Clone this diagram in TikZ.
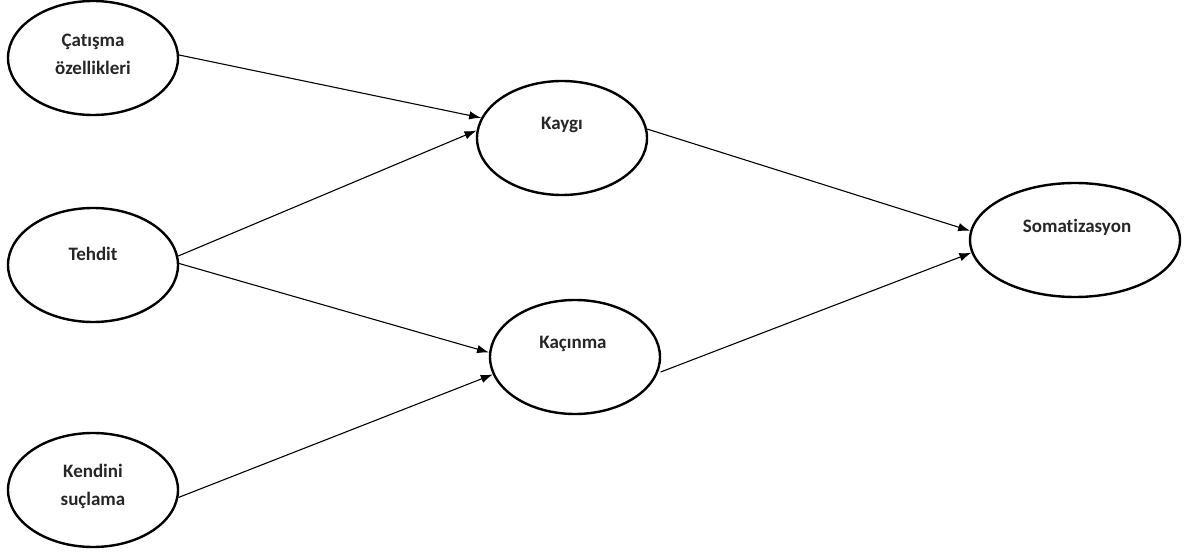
\documentclass[tikz,border=0pt]{standalone}
\usepackage{fontspec}
\setmainfont[Ligatures=NoCommon]{Carlito}
\usetikzlibrary{arrows.meta,shapes.geometric}
\begin{document}
\begin{tikzpicture}[x=1pt,y=-1pt,
  ell/.style={ellipse,draw=black,line width=2.4pt,inner sep=0pt,minimum width=170pt,minimum height=114pt},
  lbl/.style={font=\bfseries\fontsize{19}{28}\selectfont,align=center,text=black!85},
  conn/.style={line width=1.1pt,-{Latex[length=12pt,width=8.5pt]}}]
\useasboundingbox (0,0) rectangle (1189,553);
\node[ell] (cat) at (93,58) {};
\node[ell] (teh) at (93,265) {};
\node[ell] (ken) at (93,490) {};
\node[ell] (kay) at (562,138) {};
\node[ell] (kac) at (575,357) {};
\node[ell,minimum width=210pt] (som) at (1075,240) {};
\node[lbl] (catl) at (93,54) {Çatışma\\özellikleri};
\node[lbl] (tehl) at (93,254) {Tehdit};
\node[lbl] (kenl) at (93,486) {Kendini\\suçlama};
\node[lbl] (kayl) at (562,125) {Kaygı};
\node[lbl] (kacl) at (573,344) {Kaçınma};
\node[lbl] (soml) at (1077,227) {Somatizasyon};
\draw[conn] (cat.2) -- (kay.166);
\draw[conn] (teh.6) -- (kay.175.7);
\draw[conn] (teh.1) -- (kac.177);
\draw[conn] (ken.-5) -- (kac.-168);
\draw[conn] (kay.6.6) -- (som.175.6);
\draw[conn,shorten <=3pt] (kac.-11.7) -- (som.-173.4);
\end{tikzpicture}
\end{document}
